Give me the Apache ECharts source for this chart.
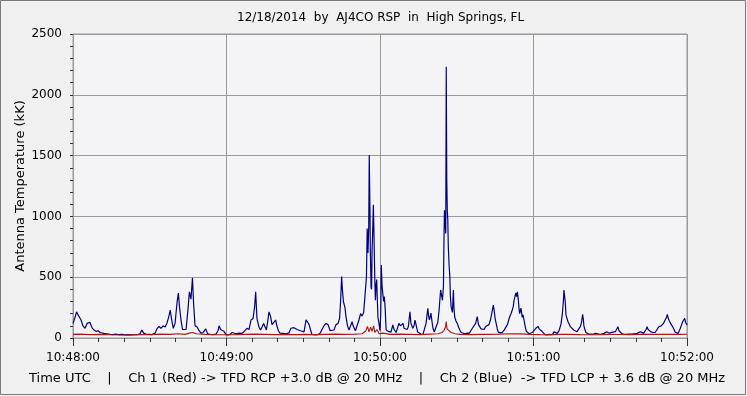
<!DOCTYPE html>
<html><head><meta charset="utf-8">
<script src="https://cdn.jsdelivr.net/npm/echarts@6/dist/echarts.min.js"></script>
<style>html,body{margin:0;padding:0;background:#F0F0F0;}#c{width:747px;height:396px;}</style>
</head><body><div id="c"></div>
<script>
// Time in seconds after 10:48:00 UTC, value in kK
const blueCh2 = [[0,120],[0.8,170],[1.4,215],[2.0,190],[2.5,205],[3.1,150],[3.9,100],[4.7,80],[5.5,120],[6.1,105],[6.6,130],[7.4,85],[8.2,65],[9.0,55],[9.8,60],[10.6,45],[11.3,55],[12.1,38],[13.3,35],[14.5,30],[15.6,28],[16.8,32],[18.0,27],[19.2,30],[20.3,26],[21.5,28],[22.7,25],[23.8,28],[25.0,27],[26.2,35],[26.9,65],[27.6,40],[28.5,32],[29.7,30],[30.9,28],[32.1,40],[32.8,75],[33.6,95],[34.4,80],[35.2,100],[36.0,90],[36.7,120],[37.5,180],[38.0,230],[38.5,160],[39.2,80],[39.9,120],[40.7,300],[41.2,370],[41.6,260],[42.2,150],[42.8,70],[43.4,60],[44.2,70],[45.0,250],[45.5,380],[46.1,320],[46.7,495],[47.1,300],[47.7,100],[48.5,90],[49.3,60],[50.0,40],[50.8,45],[51.9,75],[52.6,35],[53.6,30],[54.7,28],[55.9,32],[56.7,60],[57.1,100],[57.7,70],[58.2,66],[59.0,55],[59.8,28],[60.6,25],[61.4,30],[62.2,45],[62.9,50],[63.7,35],[64.9,40],[66.1,38],[67.2,60],[68.0,80],[68.8,70],[69.6,150],[70.4,160],[71.0,260],[71.4,380],[71.9,160],[72.7,90],[73.3,66],[73.9,90],[74.5,120],[75.1,110],[75.6,66],[76.2,150],[76.6,215],[77.2,180],[77.8,110],[78.4,120],[79.2,148],[79.7,100],[80.3,60],[80.9,40],[82.1,38],[83.3,35],[84.4,42],[85.2,80],[85.8,95],[86.4,85],[87.0,95],[87.6,70],[88.1,66],[88.9,60],[89.5,66],[90.3,50],[91.1,150],[91.7,165],[92.3,110],[92.8,70],[93.4,30],[94.6,25],[95.8,28],[96.6,40],[97.3,38],[98.1,100],[98.9,120],[99.7,110],[100.5,60],[101.2,70],[102.0,66],[102.8,110],[103.6,120],[104.2,160],[104.6,300],[105.0,505],[105.3,400],[105.7,300],[106.3,250],[106.7,175],[107.3,100],[107.9,66],[108.5,70],[109.1,135],[109.5,100],[109.8,90],[110.4,60],[111.0,66],[111.8,150],[112.4,200],[113.0,180],[113.6,210],[113.9,285],[114.3,280],[114.7,500],[115.0,900],[115.3,700],[115.6,920],[115.8,1505],[116.1,1000],[116.2,750],[116.5,420],[116.7,400],[116.9,720],[117.1,850],[117.4,1095],[117.6,900],[117.8,670],[118.0,450],[118.2,310],[118.4,420],[118.7,480],[118.9,350],[119.2,170],[119.6,120],[120.0,60],[120.3,200],[120.5,600],[120.8,430],[121.1,420],[121.4,300],[121.7,340],[122.0,250],[122.4,66],[122.9,50],[123.5,52],[124.3,48],[125.0,107],[125.5,70],[126.3,45],[126.8,60],[127.4,120],[128.0,100],[128.6,115],[129.0,120],[129.4,80],[130.0,90],[130.6,70],[131.1,95],[131.7,216],[132.1,120],[132.8,80],[133.3,100],[133.7,148],[134.3,90],[134.7,50],[135.3,35],[136.0,33],[136.8,30],[137.4,38],[138.0,120],[138.7,245],[139.0,180],[139.3,150],[139.6,170],[139.9,205],[140.3,140],[140.7,80],[141.2,50],[141.9,60],[142.6,130],[143.1,230],[143.7,395],[144.4,310],[144.8,425],[145.0,800],[145.2,1050],[145.4,960],[145.7,860],[145.9,2230],[146.1,1300],[146.3,1050],[146.5,970],[146.7,750],[147.0,600],[147.3,505],[147.5,350],[147.8,258],[148.3,210],[148.7,395],[148.9,250],[149.2,175],[149.7,140],[150.2,120],[150.7,90],[151.2,66],[151.7,45],[152.4,38],[153.2,35],[154.0,40],[154.8,38],[155.4,55],[156.1,80],[156.8,70],[157.4,120],[158.0,175],[158.5,110],[159.0,95],[159.5,75],[160.0,80],[160.7,70],[161.3,95],[162.0,80],[162.6,110],[163.2,150],[163.7,205],[164.3,270],[164.6,230],[165.0,160],[165.4,120],[165.9,70],[166.3,45],[166.8,40],[167.7,45],[168.5,65],[169.1,80],[169.8,110],[170.2,140],[170.7,175],[171.2,200],[171.7,230],[172.1,260],[172.4,310],[172.7,300],[173.1,370],[173.4,340],[173.7,380],[174.1,310],[174.3,250],[174.6,200],[175.1,245],[175.6,170],[175.9,190],[176.3,148],[176.7,100],[177.2,55],[177.7,40],[178.3,35],[179.0,38],[179.5,45],[180.2,60],[180.9,80],[181.4,70],[181.8,95],[182.2,75],[182.8,65],[183.3,55],[183.7,40],[184.5,28],[185.3,25],[186.1,30],[186.8,25],[187.4,28],[188.0,50],[188.6,40],[189.3,38],[190.0,60],[190.3,65],[190.8,120],[191.3,205],[191.7,310],[191.9,395],[192.2,380],[192.4,300],[192.7,190],[193.1,160],[193.5,134],[193.9,120],[194.4,93],[195.1,80],[195.7,66],[196.4,60],[197.0,52],[197.6,58],[198.3,93],[198.8,130],[199.2,195],[199.5,150],[199.7,100],[200.1,70],[200.5,45],[201.1,35],[201.7,30],[202.5,32],[203.3,30],[204.2,38],[204.8,30],[205.6,32],[206.4,30],[206.8,32],[207.6,38],[208.2,45],[208.7,52],[209.5,40],[210.1,45],[210.7,47],[211.3,40],[212.0,52],[212.7,65],[213.0,93],[213.4,60],[214.0,45],[214.6,35],[215.4,32],[216.2,30],[217.0,33],[217.7,30],[218.5,33],[219.3,35],[219.9,40],[220.5,38],[221.1,45],[221.8,52],[222.4,45],[223.0,38],[223.6,45],[224.0,70],[224.4,93],[224.8,70],[225.3,58],[225.9,50],[226.7,45],[227.6,47],[228.3,60],[229.0,93],[229.5,85],[229.9,100],[230.2,107],[230.8,120],[231.5,150],[232.0,170],[232.3,195],[232.7,160],[233.1,140],[233.6,120],[234.2,107],[234.7,80],[235.4,47],[235.9,40],[236.5,38],[236.9,55],[237.4,80],[237.9,110],[238.3,134],[238.7,150],[239.1,162],[239.4,130],[239.7,120],[240.0,107]];

const redCh1 = [[0,30],[2.7,32],[6.6,28],[10.6,30],[14.5,27],[18.4,25],[22.3,26],[26.2,28],[30.1,27],[34.0,32],[37.9,30],[41.0,35],[43.8,30],[45.8,42],[46.9,45],[48.1,35],[51.6,30],[55.5,28],[59.4,27],[63.3,28],[67.2,30],[71.1,32],[75.1,30],[79.0,28],[82.9,30],[86.8,28],[90.7,30],[94.6,28],[98.5,30],[102.4,32],[106.3,30],[110.2,32],[113.0,35],[114.5,60],[115.1,95],[115.7,50],[116.3,90],[116.9,55],[117.5,100],[118.0,45],[118.8,70],[119.6,35],[121.2,40],[123.9,30],[127.8,32],[131.7,30],[135.6,28],[139.6,32],[142.7,35],[144.2,45],[145.0,60],[145.6,90],[145.9,135],[146.2,75],[146.8,60],[147.8,45],[149.3,35],[151.3,30],[155.2,28],[159.1,30],[163.0,30],[166.9,32],[170.8,35],[174.7,34],[178.6,30],[182.5,28],[186.5,27],[190.4,30],[194.3,30],[198.2,28],[202.1,27],[206.0,28],[209.9,30],[213.8,29],[217.7,28],[221.6,30],[225.5,30],[229.4,31],[233.3,30],[237.2,30],[240,31]];

const xTickLabels = ['10:48:00','10:49:00','10:50:00','10:51:00','10:52:00'];
const yTicks = [0, 500, 1000, 1500, 2000, 2500];
const titleText = '12/18/2014  by  AJ4CO RSP  in  High Springs, FL';
const footerText = 'Time UTC    |    Ch 1 (Red) -> TFD RCP +3.0 dB @ 20 MHz    |    Ch 2 (Blue)  -> TFD LCP + 3.6 dB @ 20 MHz';
const yAxisTitle = 'Antenna Temperature (kK)';

const FONT = 'DejaVu Sans';
const chart = echarts.init(document.getElementById('c'), null, {renderer: 'canvas'});
chart.setOption({
  animation: false,
  backgroundColor: '#F0F0F0',
  title: [
    {text: titleText, left: 232, top: 7,
     textStyle: {fontFamily: FONT, fontSize: 12, fontWeight: 'normal', color: '#000'}},
    {text: footerText, left: 24, top: 367,
     textStyle: {fontFamily: FONT, fontSize: 13, fontWeight: 'normal', color: '#000'}}
  ],
  graphic: [{type: 'rect', shape: {x: 0.5, y: 0.5, width: 745, height: 394},
    style: {fill: 'none', stroke: '#7a7a7a', lineWidth: 1}, silent: true}],
  grid: {left: 73, right: 60, top: 34, bottom: 58, show: true, containLabel: false,
    outerBoundsMode: 'none',
    backgroundColor: '#F4F4F7', borderColor: '#9a9a9a', borderWidth: 1},
  xAxis: {
    type: 'value', min: 0, max: 240, interval: 60, offset: 5,
    axisLine: {show: false},
    axisTick: {show: true, length: 8, lineStyle: {color: '#333'}},
    minorTick: {show: true, splitNumber: 6, length: 4, lineStyle: {color: '#333'}},
    splitLine: {show: true, lineStyle: {color: '#9a9a9a', width: 1}},
    axisLabel: {margin: 9, fontFamily: FONT, fontSize: 12, color: '#000',
      formatter: v => xTickLabels[Math.round(v / 60)] || ''}
  },
  yAxis: {
    type: 'value', min: yTicks[0], max: yTicks[yTicks.length - 1], interval: 500,
    name: yAxisTitle, nameLocation: 'middle', nameGap: 46, nameMoveOverlap: false,
    nameTextStyle: {fontFamily: FONT, fontSize: 13, color: '#000'},
    axisLine: {show: false},
    axisTick: {show: true, length: 3, lineStyle: {color: '#333'}},
    minorTick: {show: true, splitNumber: 5, length: 3, lineStyle: {color: '#333'}},
    splitLine: {show: true, lineStyle: {color: '#9a9a9a', width: 1}},
    axisLabel: {margin: 11, fontFamily: FONT, fontSize: 12, color: '#000',
      formatter: v => String(v)}
  },
  series: [
    {type: 'line', name: 'Ch 2', data: blueCh2, showSymbol: false, symbol: 'none',
     lineStyle: {color: '#00007F', width: 1.2}, z: 2},
    {type: 'line', name: 'Ch 1', data: redCh1, showSymbol: false, symbol: 'none',
     lineStyle: {color: '#A81818', width: 1.1}, z: 3}
  ]
});
</script></body></html>
